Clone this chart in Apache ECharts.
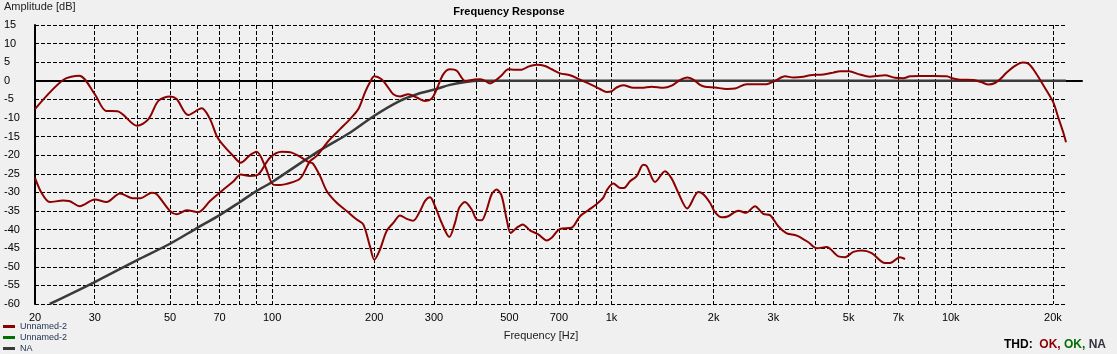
<!DOCTYPE html>
<html>
<head>
<meta charset="utf-8">
<script src="https://cdn.jsdelivr.net/npm/echarts@6/dist/echarts.min.js"></script>
<style>
  html, body { margin: 0; padding: 0; background: #f0f0f0; }
  #chart { width: 1117px; height: 354px; }
</style>
</head>
<body>
<div id="chart"></div>
<script>
// ---- DATA ----
// vertical grid lines (Hz) and the ones that get a label
const gridFreqs = [20, 30, 40, 50, 60, 70, 80, 90, 100, 200, 300, 400, 500, 600, 700, 800, 900,
  1000, 2000, 3000, 4000, 5000, 6000, 7000, 8000, 9000, 10000, 20000];
const labelFreqs = [20, 30, 50, 70, 100, 200, 300, 500, 700, 1000, 2000, 3000, 5000, 7000, 10000, 20000];

// [Hz, dB]
const response = [[20,-7.6],[24.2,0.2],[27,1.35],[30,-3.6],[32.4,-8.1],[35,-8.2],[40,-12.1],[43.2,-10.3],
  [46.2,-5.4],[50,-4.2],[52.3,-4.9],[56.6,-9.2],[62,-7.4],[65.6,-10.3],[68.6,-14.8],[71,-16.8],[76.8,-20.2],
  [80.8,-22],[86,-20],[90,-19.1],[95.3,-22.9],[100.8,-27.9],[105.5,-28],[110.4,-27.7],[120.8,-26.3],
  [129.3,-21.6],[135.3,-20.2],[146.4,-16.2],[158.5,-13],[169.6,-10.3],[179.5,-7.6],[187.8,-3.1],[194.2,-0.4],
  [200,1.2],[210.2,0.4],[217.4,-1.2],[227.6,-3.6],[238.2,-4.2],[251.9,-3.6],[266.7,-4.5],[282.3,-5.4],
  [295.3,-4.8],[305.6,-2.2],[319.6,1.8],[334.4,3.1],[350,2.7],[370,0],[391.6,0.3],[409.9,0.45],[424,0],
  [438.6,-0.7],[453.8,0],[474.8,1.5],[496.6,3.1],[519.7,3],[543.8,3],[568.8,3.8],[602,4.3],[637,4],
  [666.6,3.1],[705.4,2],[755,1.5],[807.8,0.3],[864.4,-0.9],[925.4,-2.2],[968,-3],[1002,-2.8],[1036,-1.8],
  [1084,-1.2],[1160,-1.9],[1228,-1.9],[1314,-1.6],[1422,-1.9],[1505,-1.3],[1592,0.2],[1673,0.9],[1743,0.3],
  [1824,-1.1],[1887,-1.6],[2019,-1.8],[2186,-2.2],[2312,-2.1],[2504,-0.9],[2868,-0.9],[3034,0],[3248,1.2],
  [3436,0.9],[3678,1.1],[3848,1.5],[4212,1.7],[4506,2.2],[4716,2.6],[5022,2.6],[5340,1.8],[5780,1.1],
  [6050,1.3],[6402,1.5],[6848,0.8],[7246,0.7],[7584,1.2],[8116,1.3],[8882,1.3],[9728,1.2],[10174,0.6],
  [10646,0.3],[11656,0.2],[12340,-0.4],[12904,-1],[13506,-0.6],[13972,0.4],[14618,2.2],[15466,4],
  [16294,4.9],[16926,4.6],[17508,3.1],[18324,0.3],[19174,-2.7],[20056,-5.8],[20746,-9.9],[21464,-13.9],
  [21860,-16.5]];

const distortion = [[20,-26.1],[20.9,-30.1],[22.1,-32.6],[24.2,-32.2],[25.2,-32.3],[27.1,-33.7],[30,-31.9],
  [32.5,-32.6],[35.6,-30.3],[39,-31.6],[40.8,-31.6],[44.2,-30.1],[45.7,-30.5],[50,-35],[52.3,-35.9],[56,-34.8],
  [60.6,-35.3],[65.6,-32.3],[71,-29.6],[76.8,-27.1],[80.8,-25.2],[86,-25.6],[91,-25.2],[98.5,-20.7],
  [106.7,-19.1],[114.2,-19.3],[120.8,-20.4],[127.8,-21.8],[131.7,-22.2],[138.4,-25.6],[144.8,-29.6],
  [155,-32.8],[165.8,-35],[177.5,-37.3],[185.6,-38.6],[194.2,-44.5],[200,-48.1],[207.8,-45.4],[217.4,-40.4],
  [227.6,-38.2],[238.2,-36.2],[249.2,-37.1],[260.6,-37.6],[272.8,-35],[282.3,-32.3],[292,-31.3],[302,-33.7],
  [316,-38.2],[332.7,-42],[345.8,-38.2],[356,-34.1],[370,-32.6],[387.3,-34.6],[400.8,-37.3],[414.6,-37.5],
  [429,-34.6],[443.6,-30.5],[459,-29.2],[474.8,-31],[491.2,-37.3],[504.6,-40.9],[525.8,-39.5],[547.6,-38.6],
  [575.4,-40.2],[608.8,-41.3],[644.4,-42.9],[666.6,-42.2],[705.4,-39.8],[763.6,-39.5],[807.8,-36.4],
  [854.6,-34.8],[904.8,-33.1],[946.2,-31.4],[972.4,-29.2],[1012.8,-27.6],[1060,-28.8],[1089,-28.8],
  [1134,-27],[1186.8,-25.6],[1241,-22.6],[1270,-22.9],[1344,-27.2],[1438.6,-24.3],[1505,-26.3],
  [1573.8,-30.1],[1673,-34.3],[1803,-29.9],[1864.6,-30.5],[1951.8,-32.8],[2019,-35.3],[2114,-36.7],
  [2210,-36.4],[2366,-34.9],[2492,-35.5],[2648,-33.7],[2802,-35.8],[2932,-36.1],[3102,-39.1],[3286,-41],
  [3516,-41.6],[3804,-43.4],[4028,-45],[4308,-44.7],[4662,-47.2],[4880,-47.4],[5162,-46],[5466,-45.6],
  [5848,-46.3],[6402,-49],[6622,-49],[7086,-47.4],[7332,-47.9]];

const target = [[22.1,-60],[30,-54.1],[40,-48.2],[50,-43.8],[60,-39.6],[70,-36.1],[80,-32.7],[90,-29.6],
  [100,-27.2],[135,-19.3],[170,-13.9],[200,-9.4],[238,-5.4],[267,-3.6],[305,-2.2],[334,-1.1],[372,-0.3],
  [410,0],[21860,0]];

const RED = '#8b0000', GREEN = '#007000', GRAY = '#3a3a3a';
const FONT = 'Liberation Sans, Arial, sans-serif';

function fmtHz(v) {
  const f = Math.round(v);
  return f >= 1000 ? (f / 1000) + 'k' : String(f);
}

const dash = { color: '#000', width: 1, type: [4, 2] };

const chart = echarts.init(document.getElementById('chart'), null, { renderer: 'canvas' });
chart.setOption({
  backgroundColor: '#f0f0f0',
  animation: false,
  textStyle: { fontFamily: FONT },
  grid: [
    { left: 35, top: 25, width: 1031, height: 279 },
    { left: 35, top: 25, width: 1047, height: 279 }
  ],
  xAxis: [{
    type: 'log', gridIndex: 0, min: 20, max: 21860,
    axisLine: { show: false },
    axisTick: { show: true, customValues: gridFreqs, length: 6, lineStyle: { color: '#000', width: 1 } },
    axisLabel: { customValues: labelFreqs, formatter: fmtHz, color: '#000', fontSize: 11, margin: 8, fontFamily: FONT },
    splitLine: { show: true, lineStyle: dash }
  }, {
    type: 'log', gridIndex: 1, min: 20, max: 24370,
    axisLine: { show: true, lineStyle: { color: '#000', width: 2 } },
    axisTick: { show: false }, axisLabel: { show: false }, splitLine: { show: false }
  }],
  yAxis: [{
    type: 'value', gridIndex: 0, min: -60, max: 15, interval: 5,
    axisLine: { show: true, lineStyle: { color: '#000', width: 2 } },
    axisTick: { show: false },
    axisLabel: { color: '#000', fontSize: 11, align: 'left', margin: 31, fontFamily: FONT },
    splitLine: { show: true, lineStyle: dash }
  }, {
    type: 'value', gridIndex: 1, min: -60, max: 15, show: false
  }],
  legend: {
    orient: 'vertical', left: 3, top: 321, padding: 0,
    data: ['Unnamed-2', 'Unnamed-2 ', 'NA'],
    icon: 'rect', itemWidth: 12, itemHeight: 3, itemGap: 0,
    textStyle: { fontSize: 9, lineHeight: 11, color: '#1f2f4f', fontFamily: FONT },
    selectedMode: false
  },
  graphic: [
    { type: 'text', left: 4, top: 1, style: { text: 'Amplitude [dB]', fill: '#222', font: '11px ' + FONT } },
    { type: 'text', x: 509, y: 12, style: { text: 'Frequency Response', fill: '#000', font: 'bold 11px ' + FONT, align: 'center', verticalAlign: 'middle' } },
    { type: 'text', x: 541, y: 336, style: { text: 'Frequency [Hz]', fill: '#1a1a1a', font: '11px ' + FONT, align: 'center', verticalAlign: 'middle' } },
    { type: 'text', x: 1004, y: 345, style: {
      text: '{a|THD:}  {r|OK,} {g|OK,} {n|NA}', verticalAlign: 'middle', font: 'bold 12px ' + FONT,
      rich: {
        a: { fill: '#000', font: 'bold 12px ' + FONT },
        r: { fill: RED, font: 'bold 12px ' + FONT },
        g: { fill: GREEN, font: 'bold 12px ' + FONT },
        n: { fill: '#333344', font: 'bold 12px ' + FONT }
      }
    } }
  ],
  series: [
    { name: 'NA', type: 'line', data: target, showSymbol: false, symbol: 'none', smooth: 0.3,
      lineStyle: { color: GRAY, width: 2.5 }, itemStyle: { color: GRAY }, z: 2 },
    { name: 'Unnamed-2', type: 'line', data: response, symbol: 'none', smooth: 0.3,
      lineStyle: { color: RED, width: 2 }, itemStyle: { color: RED }, z: 3 },
    { name: 'Unnamed-2', type: 'line', data: distortion, symbol: 'none', smooth: 0.3,
      lineStyle: { color: RED, width: 2 }, itemStyle: { color: RED }, z: 3 },
    { name: 'Unnamed-2 ', type: 'line', data: [], symbol: 'none',
      lineStyle: { color: GREEN, width: 2 }, itemStyle: { color: GREEN } }
  ]
});
</script>
</body>
</html>
